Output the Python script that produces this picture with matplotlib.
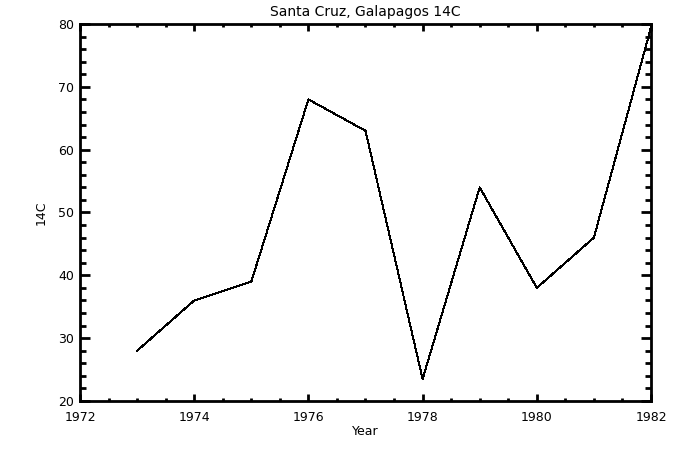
import matplotlib
matplotlib.use("Agg")
import matplotlib.pyplot as plt
from matplotlib.ticker import MultipleLocator

years = [1973, 1974, 1975, 1976, 1977, 1978, 1979, 1980, 1981, 1982]
c14 = [28, 36, 39, 68, 63, 23.5, 54, 38, 46, 79.5]

fig = plt.figure(figsize=(6.75, 4.5), dpi=100)
ax = fig.add_axes([80 / 675, 49 / 450, 571 / 675, 377 / 450])

ax.plot(years, c14, color="black", linewidth=0.7, antialiased=False)

ax.set_xlim(1972, 1982)
ax.set_ylim(20, 80)
ax.xaxis.set_major_locator(MultipleLocator(2))
ax.xaxis.set_minor_locator(MultipleLocator(0.5))
ax.yaxis.set_major_locator(MultipleLocator(10))
ax.yaxis.set_minor_locator(MultipleLocator(2))

for s in ax.spines.values():
    s.set_linewidth(2)
ax.tick_params(axis="both", which="both", direction="in", top=True, right=True,
               labelsize=9, width=2)
ax.tick_params(axis="y", which="major", length=7.5, pad=4)
ax.tick_params(axis="y", which="minor", length=4.5)
ax.tick_params(axis="x", which="major", length=5, pad=7)
ax.tick_params(axis="x", which="minor", length=2.5)

ax.set_title("Santa Cruz, Galapagos 14C", fontsize=10, pad=6)
ax.set_xlabel("Year", fontsize=9, labelpad=1)
ax.set_ylabel("14C", fontsize=9, labelpad=8)

fig.savefig("out.png", dpi=100)
